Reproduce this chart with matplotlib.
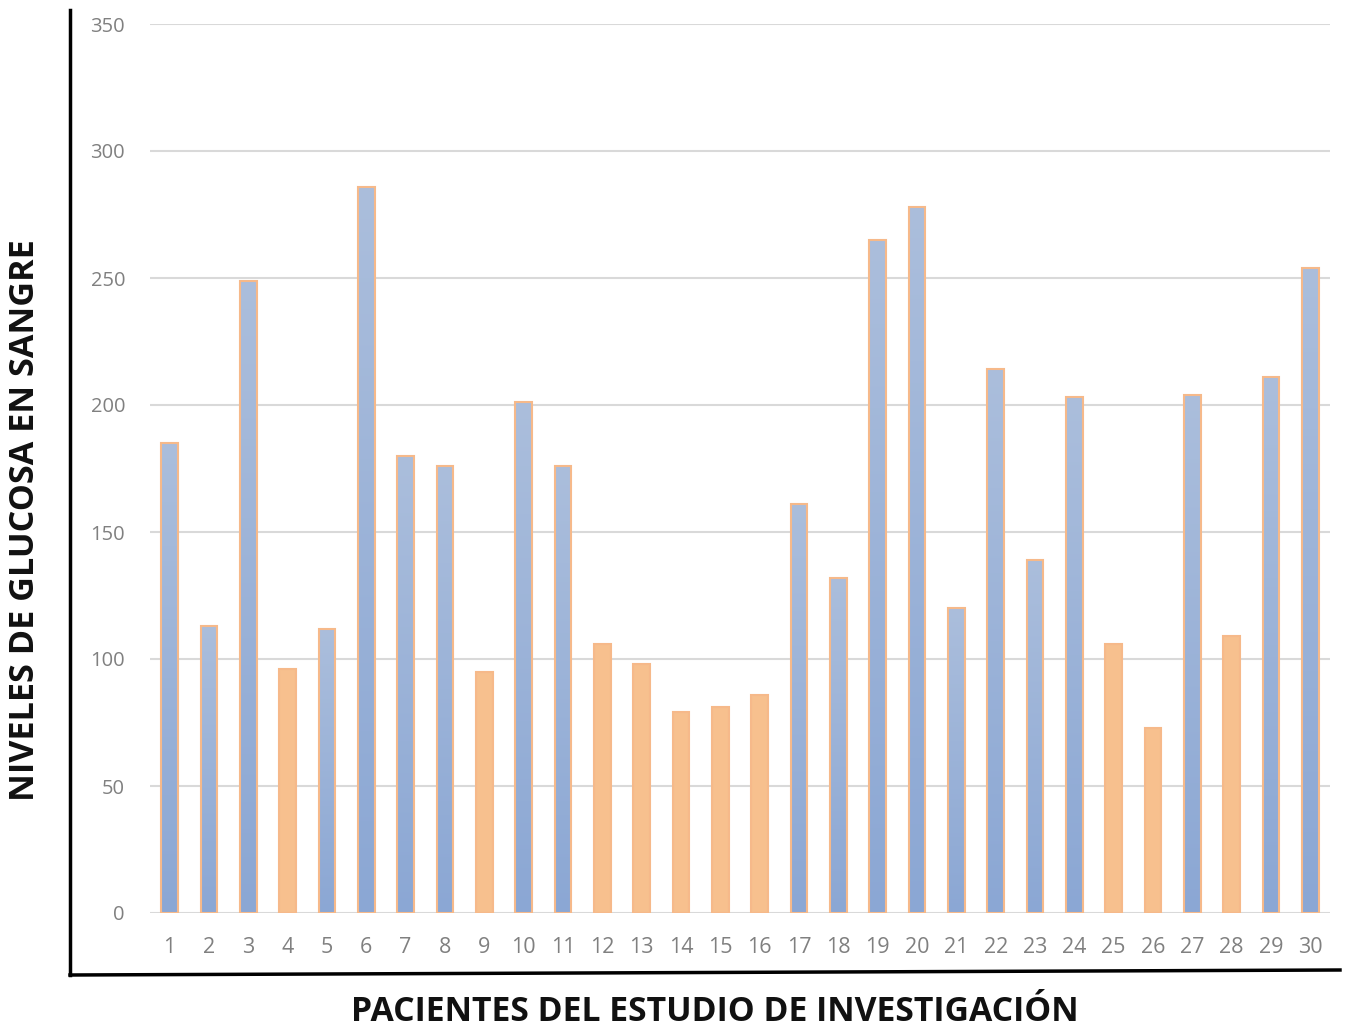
import matplotlib
matplotlib.use("Agg")
import matplotlib.pyplot as plt
import numpy as np
from matplotlib.colors import LinearSegmentedColormap
from matplotlib.lines import Line2D

patients = [str(i) for i in range(1, 31)]
glucose = [185, 113, 249, 96, 112, 286, 180, 176, 95, 201,
           176, 106, 98, 79, 81, 86, 161, 132, 265, 278,
           120, 214, 139, 203, 106, 73, 204, 109, 211, 254]
yticks = [0, 50, 100, 150, 200, 250, 300, 350]
threshold = 110

fig = plt.figure(figsize=(13.47, 10.30), dpi=100)
ax = fig.add_axes([150/1347, 1-913/1030, 1180/1347, (913-24)/1030])

x = np.arange(len(patients))
orange = "#f7c08e"
edge = "#f6b98a"
cmap = LinearSegmentedColormap.from_list("bl", ["#8ba7d4", "#abbedc"])
grad = np.linspace(0, 1, 256).reshape(-1, 1)

bars = ax.bar(x, glucose, width=0.42, edgecolor=edge, linewidth=1.5, zorder=3)
for b, v in zip(bars, glucose):
    if v < threshold:
        b.set_facecolor(orange)
    else:
        b.set_facecolor("none")
        im = ax.imshow(grad, cmap=cmap, aspect="auto", origin="lower",
                       extent=[b.get_x(), b.get_x() + b.get_width(), 0, b.get_height()],
                       zorder=2)
        im.set_clip_path(b)

ax.set_xlim(-0.5, len(patients) - 0.5)
ax.set_ylim(0, 350)
ax.set_yticks(yticks)
ax.set_xticks(x)
ax.set_xticklabels(patients)
ax.grid(axis="y", color="#d9d9d9", linewidth=1.5, zorder=0)
ax.set_axisbelow(True)
for s in ax.spines.values():
    s.set_visible(False)
ax.tick_params(axis="both", length=0, colors="#808080")
ax.tick_params(axis="y", pad=18, labelsize=14.5)
ax.tick_params(axis="x", pad=17, labelsize=15.5)
for t in ax.get_xticklabels() + ax.get_yticklabels():
    t.set_fontfamily("Open Sans")

# outer axis lines
fig.add_artist(Line2D([70/1347, 70/1347], [1-10/1030, 1-975/1030], color="black", lw=2.5))
fig.add_artist(Line2D([70/1347, 1340/1347], [1-975/1030, 1-970/1030], color="black", lw=2.5))

fig.text(25/1347, 1-520/1030, "NIVELES DE GLUCOSA EN SANGRE", rotation=90,
         ha="center", va="center", fontsize=24.6, fontweight="bold",
         family="Open Sans", color="#111111")
fig.text(715/1347, 1-1012/1030, "PACIENTES DEL ESTUDIO DE INVESTIGACIÓN",
         ha="center", va="center", fontsize=24.3, fontweight="bold",
         family="Open Sans", color="#111111")

fig.savefig("out.png", dpi=100)
